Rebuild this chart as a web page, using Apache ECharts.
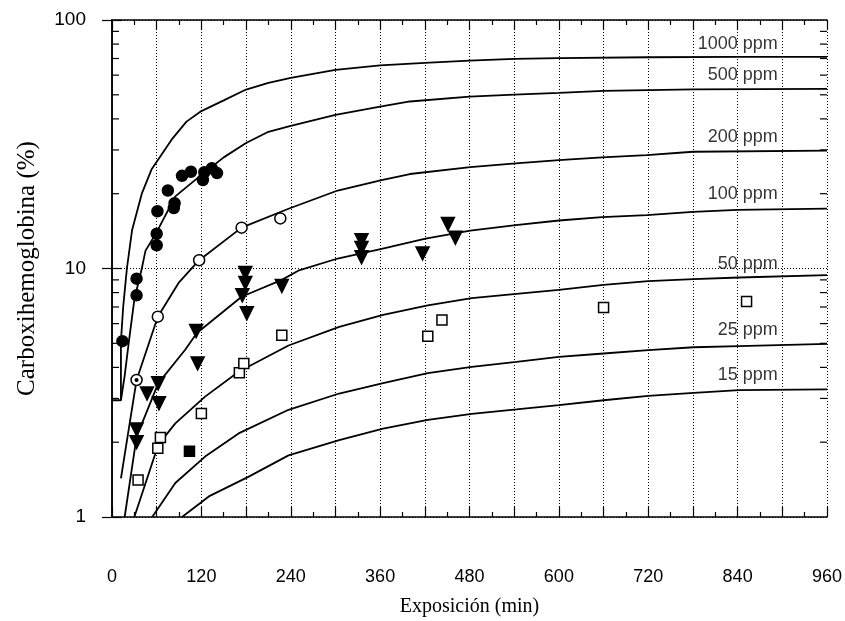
<!DOCTYPE html>
<html>
<head>
<meta charset="utf-8">
<script src="https://cdn.jsdelivr.net/npm/echarts@6/dist/echarts.min.js"></script>
<style>html,body{margin:0;background:#fff}#main{width:845px;height:621px}</style>
</head>
<body>
<div id="main"></div>
<script>
// model curves [minutes, % COHb]
var c1000 = [[0,2.95],[12,2.95],[12,5.1],[15,7],[20,10],[27,14.3],[40,20],[53,25],[80,33],[100,39],[120,43],[150,47.5],[180,52.5],[210,55.8],[240,58.5],[300,63],[360,65.7],[420,67.2],[480,68.6],[540,69.8],[600,70.3],[720,70.8],[840,71],[960,71]];
var c500 = [[12,2.95],[17,3.7],[22,4.9],[30,7.5],[40,10],[45,11.8],[60,14],[85,19.5],[120,23.8],[150,28],[180,32],[210,35.5],[240,37.5],[300,41.5],[360,44.8],[400,47],[480,49.2],[540,50.1],[600,50.9],[660,51.9],[780,52.6],[960,52.8]];
var c200 = [[12,1.43],[33,3.56],[61.5,6.4],[90,8.8],[117,10.8],[174,14.6],[237,17.4],[303,20.6],[362,22.7],[400,24],[481,25.6],[542,26.5],[600,27.3],[658,28],[718,28.6],[780,29.5],[960,29.8]];
var c100 = [[17,1],[33,2.1],[62,3.45],[98,4.7],[114,5.5],[174,7.7],[228,9],[250,9.8],[303,10.97],[362,12],[421,13.2],[481,14.2],[542,14.96],[600,15.6],[658,16.1],[718,16.4],[780,16.9],[840,17.2],[960,17.4]];
var c50 = [[30,1],[62,1.95],[85,2.38],[125,3.05],[170,3.84],[237,4.9],[305,5.82],[364,6.5],[424,7.1],[483,7.6],[543,7.9],[600,8.2],[660,8.6],[720,8.9],[781,9.06],[842,9.2],[960,9.4]];
var c25 = [[54,1],[85,1.37],[125,1.75],[170,2.17],[237,2.7],[305,3.14],[364,3.46],[424,3.79],[483,4.02],[543,4.21],[600,4.41],[660,4.55],[720,4.69],[781,4.82],[842,4.87],[960,4.97]];
var c15 = [[94,1],[130,1.21],[183,1.45],[237,1.77],[305,2.04],[364,2.27],[424,2.46],[483,2.6],[543,2.71],[600,2.82],[660,2.95],[720,3.07],[781,3.16],[842,3.24],[960,3.26]];

// measured points
var filledCircles = [[14,5.1],[33,7.8],[33,9.1],[60,12.4],[60,13.8],[61,17],[75,20.6],[83,17.5],[84,18.3],[94,23.6],[106,24.5],[122,22.7],[124,24.4],[134,25.3],[141,24.2]];
var openCircles = [[33,3.56],[61.5,6.4],[117,10.8],[174,14.6],[226,15.9]];
var dottedCircles = [[33,3.56]];
var triangles = [[33,2],[33,2.25],[47,3.14],[62,3.45],[63,2.87],[113,5.6],[115,4.15],[175,7.8],[179,9.6],[179,8.75],[181,6.6],[228,8.5],[335,11.1],[335,12.1],[335,13],[417,11.5],[451,15.1],[461,13.3]];
var openSquares = [[35,1.41],[61.5,1.89],[65,2.09],[120,2.61],[171,3.81],[177,4.15],[228,5.39],[424,5.34],[443,6.2],[660,6.96],[852,7.36]];
var filledSquares = [[104,1.84]];

var curveNames = ['1000 ppm','500 ppm','200 ppm','100 ppm','50 ppm','25 ppm','15 ppm'];
var labelAt = [[894,80],[894,60.1],[894,33.9],[894,20],[894,10.4],[894,5.64],[894,3.72]];
var yMinorTicks = [2,3,4,5,6,7,8,9,20,30,40,50,60,70,80,90];

var curves = [c1000, c500, c200, c100, c50, c25, c15];

var myChart = echarts.init(document.getElementById('main'));

var series = curves.map(function (d, i) {
  return {
    name: curveNames[i],
    type: 'line',
    data: d,
    symbol: 'none',
    lineStyle: { color: '#000', width: 1.8 },
    z: 3
  };
});

var pt = function (data, symbol, size, fill, rotate) {
  return {
    type: 'scatter',
    data: data,
    symbol: symbol,
    symbolSize: size,
    symbolRotate: rotate || 0,
    itemStyle: { color: fill, borderColor: '#000', borderWidth: 1.5, opacity: 1 },
    z: 5
  };
};
series.push(pt(filledCircles, 'circle', 11, '#000'));
series.push(pt(openCircles, 'circle', 11, '#fff'));
series.push(pt(dottedCircles, 'circle', 2.5, '#000'));
series.push(pt(triangles, 'triangle', 13, '#000', 180));
series.push(pt(openSquares, 'rect', 10, '#fff'));
series.push(pt(filledSquares, 'rect', 10, '#000'));
series[series.length - 4].z = 6;

// curve labels
series.push({
  type: 'scatter',
  symbolSize: 0,
  data: labelAt.map(function (p, i) { return { name: curveNames[i], value: p }; }),
  label: {
    show: true, position: 'left', distance: 0,
    formatter: function (p) { return p.name; },
    color: '#000', fontSize: 18, fontFamily: 'Arial'
  },
  z: 6
});

// minor log ticks on both sides
series.push({
  type: 'custom',
  data: yMinorTicks.map(function (v) { return [0, v]; }),
  renderItem: function (params, api) {
    var l = api.coord([0, api.value(1)]);
    var r = api.coord([960, api.value(1)]);
    return {
      type: 'group',
      children: [
        { type: 'line', shape: { x1: l[0], y1: l[1], x2: l[0] + 7, y2: l[1] }, style: { stroke: '#000', lineWidth: 1.2 } },
        { type: 'line', shape: { x1: r[0] - 7, y1: r[1], x2: r[0], y2: r[1] }, style: { stroke: '#000', lineWidth: 1.2 } }
      ]
    };
  },
  z: 4
});

var option = {
  animation: false,
  backgroundColor: '#fff',
  grid: { left: 112, right: 18, top: 20, bottom: 104, outerBoundsMode: 'none' },
  xAxis: [
    {
      type: 'value', min: 0, max: 960, interval: 60,
      name: 'Exposición (min)', nameLocation: 'middle', nameGap: 80,
      nameTextStyle: { fontFamily: 'Liberation Serif', fontSize: 20, color: '#000' },
      axisLine: { lineStyle: { color: '#000', width: 1.5 } },
      axisTick: { inside: true, length: 10, lineStyle: { color: '#000', width: 1.2 } },
      minorTick: { show: true, splitNumber: 2, length: 5, lineStyle: { color: '#000', width: 1.2 } },
      axisLabel: {
        margin: 51, fontSize: 18, fontFamily: 'Arial', color: '#000',
        formatter: function (v) { return v % 120 === 0 ? v : ''; }
      },
      splitLine: { show: true, lineStyle: { color: '#000', type: [1, 2], width: 1 } }
    },
    {
      type: 'value', min: 0, max: 960, interval: 60, position: 'top',
      axisLine: { lineStyle: { color: '#000', width: 1.5 } },
      axisTick: { inside: true, length: 10, lineStyle: { color: '#000', width: 1.2 } },
      minorTick: { show: true, splitNumber: 2, length: 5, lineStyle: { color: '#000', width: 1.2 } },
      axisLabel: { show: false },
      splitLine: { show: false }
    }
  ],
  yAxis: [
    {
      type: 'log', logBase: 10, min: 1, max: 100,
      name: 'Carboxihemoglobina (%)', nameLocation: 'middle', nameGap: 72,
      nameTextStyle: { fontFamily: 'Liberation Serif', fontSize: 25, color: '#000' },
      axisLine: { show: true, lineStyle: { color: '#000', width: 1.5 } },
      axisTick: { show: true, inside: true, length: 10, lineStyle: { color: '#000', width: 1.2 } },
      axisLabel: { margin: 26, fontSize: 19, fontFamily: 'Arial', color: '#000' },
      splitLine: { show: true, lineStyle: { color: '#000', type: [1, 2], width: 1 } }
    },
    {
      type: 'log', logBase: 10, min: 1, max: 100, position: 'right',
      axisLine: { show: true, lineStyle: { color: '#000', width: 1.5 } },
      axisTick: { show: true, inside: true, length: 10, lineStyle: { color: '#000', width: 1.2 } },
      axisLabel: { show: false },
      splitLine: { show: false }
    }
  ],
  series: series
};

myChart.setOption(option);
</script>
</body>
</html>
